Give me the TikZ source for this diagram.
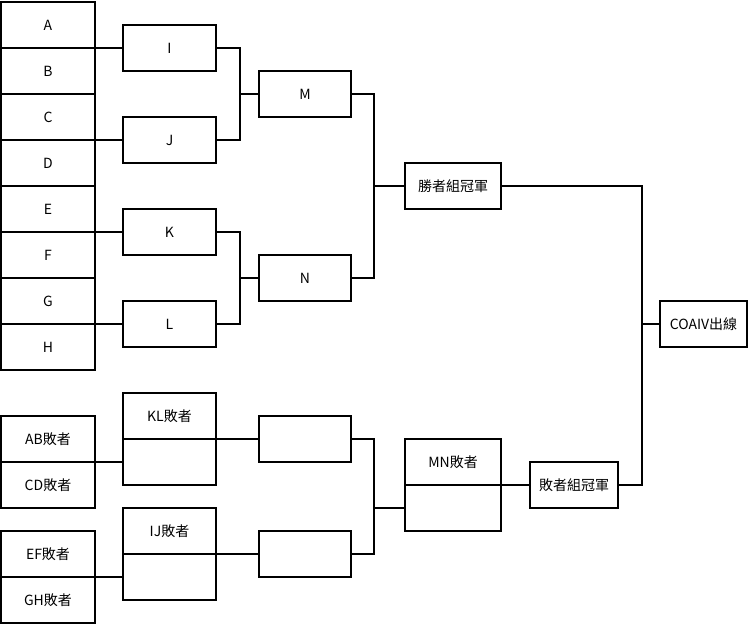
\documentclass[tikz,border=0pt]{standalone}
\usepackage{fontspec}
\setmainfont{Noto Sans CJK TC}
\begin{document}
\begin{tikzpicture}[x=1pt,y=-1pt,line width=1.5pt,
  box/.style={draw,rectangle,inner sep=0pt,outer sep=0pt,minimum height=46pt,font=\fontsize{14}{16}\selectfont},
  team/.style={box,minimum width=94pt},
  game/.style={box,minimum width=93pt},
  semi/.style={box,minimum width=92pt},
  final/.style={box,minimum width=96pt}]
\useasboundingbox (0,0) rectangle (749,625);
% first round
\node[team] (A) at (48,25) {A};
\node[team] (B) at (48,71) {B};
\node[team] (C) at (48,117) {C};
\node[team] (D) at (48,163) {D};
\node[team] (E) at (48,209) {E};
\node[team] (F) at (48,255) {F};
\node[team] (G) at (48,301) {G};
\node[team] (H) at (48,347) {H};
\node[game] (I) at (169.5,48) {I};
\node[game] (J) at (169.5,140) {J};
\node[game] (K) at (169.5,232) {K};
\node[game] (L) at (169.5,324) {L};
\node[semi] (M) at (305,94) {M};
\node[semi] (N) at (305,278) {N};
\node[final] (win) at (453,186) {勝者組冠軍};
\node[box,minimum width=87pt] (coa) at (703.5,324) {COAIV出線};
% losers side
\node[team] (AB) at (48,439) {AB敗者};
\node[team] (CD) at (48,485) {CD敗者};
\node[team] (EF) at (48,554) {EF敗者};
\node[team] (GH) at (48,600) {GH敗者};
\node[game] (KLt) at (169.5,416) {KL敗者};
\node[game] (KLb) at (169.5,462) {};
\node[game] (IJt) at (169.5,531) {IJ敗者};
\node[game] (IJb) at (169.5,577) {};
\node[semi] (e1) at (305,439) {};
\node[semi] (e2) at (305,554) {};
\node[final] (MNt) at (453,462) {MN敗者};
\node[final] (MNb) at (453,508) {};
\node[box,minimum width=88pt] (lose) at (574,485) {敗者組冠軍};
\coordinate (jIJ) at (240,94);
\coordinate (jKL) at (240,278);
\coordinate (jMN) at (374,186);
\coordinate (jLo) at (374,508);
\coordinate (jFin) at (642,324);
\draw (A.south east)--(I.west); \draw (C.south east)--(J.west);
\draw (E.south east)--(K.west); \draw (G.south east)--(L.west);
\draw (I.east) -| (jIJ) |- (J.east); \draw (jIJ)--(M.west);
\draw (K.east) -| (jKL) |- (L.east); \draw (jKL)--(N.west);
\draw (M.east) -| (jMN) |- (N.east); \draw (jMN)--(win.west);
\draw (AB.south east)--(KLb.west); \draw (EF.south east)--(IJb.west);
\draw (KLt.south east)--(e1.west); \draw (IJt.south east)--(e2.west);
\draw (e1.east) -| (jLo) |- (e2.east); \draw (jLo)--(MNb.west);
\draw (MNt.south east)--(lose.west);
\draw (win.east) -| (jFin) |- (lose.east); \draw (jFin)--(coa.west);
\end{tikzpicture}
\end{document}
